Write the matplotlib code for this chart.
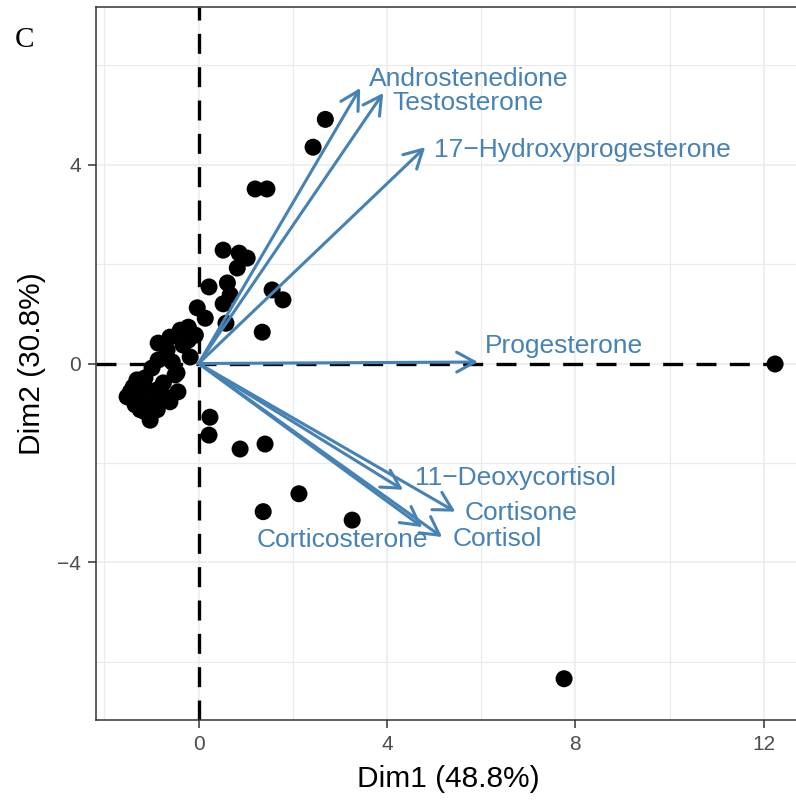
import numpy as np
import matplotlib
matplotlib.use('Agg')
import matplotlib.pyplot as plt
from matplotlib.ticker import MultipleLocator

plt.rcParams['font.family'] = ['Liberation Sans', 'DejaVu Sans']

# individuals (PCA scores)
dim1 = [2.69, 2.43, 1.20, 1.45, 0.52, 0.86, 1.03, 0.82, 1.56, 1.79,
        1.35, 0.22, 0.61, 0.67, 0.52, -0.03, 0.14, 0.58, -0.22, -0.07,
        -0.22, -0.39, -0.61, -0.86, -0.67, -0.18, -0.86, -0.99, -1.14, -1.39,
        -1.52, -1.24, -0.88, -0.50, -0.44, -0.61, -0.88, -1.03, -1.24, -1.45,
        -1.03, -0.82, 0.24, 0.22, 0.88, 1.41, 2.13, 1.37, 3.26, 12.24,
        7.76, -0.46, -0.65, -1.31, -1.14, -0.33, -0.56, -1.14, -1.35, -0.75]
dim2 = [4.91, 4.35, 3.51, 3.51, 2.28, 2.22, 2.12, 1.92, 1.48, 1.28,
        0.63, 1.54, 1.62, 1.38, 1.20, 1.12, 0.91, 0.81, 0.73, 0.57,
        0.47, 0.67, 0.53, 0.41, 0.27, 0.13, 0.07, -0.09, -0.29, -0.47,
        -0.67, -0.67, -0.53, -0.23, -0.57, -0.77, -0.93, -1.14, -0.93, -0.57,
        -0.79, -0.73, -1.08, -1.44, -1.72, -1.62, -2.62, -2.98, -3.15, -0.01,
        -6.34, -0.19, -0.69, -0.33, -0.97, 0.37, 0.03, -0.49, -0.83, -0.39]

# variables (arrows)
var_names = ['Androstenedione', 'Testosterone', '17\u2212Hydroxyprogesterone',
             'Progesterone', '11\u2212Deoxycortisol', 'Cortisone', 'Cortisol',
             'Corticosterone']
var_x = [3.43, 3.92, 4.81, 5.93, 4.34, 5.45, 5.17, 4.75]
var_y = [5.54, 5.44, 4.35, 0.03, -2.54, -2.98, -3.49, -3.29]
# label positions (repelled)
lab_x = [5.73, 5.72, 8.14, 7.75, 6.72, 6.85, 6.34, 3.05]
lab_y = [5.58, 5.10, 4.15, 0.21, -2.44, -3.15, -3.67, -3.69]

blue = '#4682B4'

fig = plt.figure(figsize=(7.96, 8.0), dpi=100)
ax = fig.add_axes([96 / 796, 80 / 800, 704 / 796, 713 / 800])

ax.set_xlim(-2.18, 12.77)
ax.set_ylim(-7.17, 7.17)
ax.xaxis.set_major_locator(MultipleLocator(4))
ax.xaxis.set_minor_locator(MultipleLocator(2))
ax.yaxis.set_major_locator(MultipleLocator(4))
ax.yaxis.set_minor_locator(MultipleLocator(2))
ax.grid(which='major', color='#EBEBEB', lw=1.1, zorder=0)
ax.grid(which='minor', color='#EBEBEB', lw=0.9, zorder=0)
ax.set_axisbelow(True)
ax.tick_params(which='minor', length=0)
ax.tick_params(which='major', length=6, width=1.1, color='#333333',
               labelcolor='#4D4D4D', labelsize=15, pad=5)
for s in ax.spines.values():
    s.set_color('#333333')
    s.set_linewidth(1.1)

ax.axhline(0, color='black', lw=2.4, dashes=(6, 4), zorder=1)
ax.axvline(0, color='black', lw=2.4, dashes=(6, 4), zorder=1)

ax.scatter(dim1, dim2, s=150, color='black', edgecolors='none', zorder=2,
           clip_on=False)

for name, x, y, tx, ty in zip(var_names, var_x, var_y, lab_x, lab_y):
    ax.annotate('', xy=(x, y), xytext=(0, 0),
                arrowprops=dict(arrowstyle='->,head_length=1.0,head_width=0.55',
                                color=blue, lw=2.2, shrinkA=0, shrinkB=0,
                                mutation_scale=13),
                zorder=3)
    ax.text(tx, ty, name, color=blue, fontsize=19, ha='center',
            va='baseline', zorder=4)

ax.set_xlabel('Dim1 (48.8%)', fontsize=21.5, labelpad=8)
ax.set_ylabel('Dim2 (30.8%)', fontsize=21.5, labelpad=8)

fig.text(15 / 796, 1 - 47 / 800, 'C', family='Liberation Serif', fontsize=21,
         ha='left', va='baseline')

fig.savefig('out.png', dpi=100)
